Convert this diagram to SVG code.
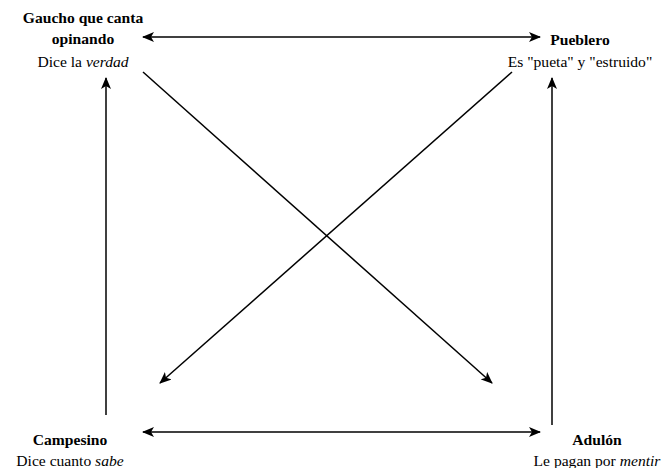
<svg xmlns="http://www.w3.org/2000/svg" width="667" height="468" viewBox="0 0 667 468">
<style>
text{font-family:'Liberation Serif','Times New Roman',serif;font-size:15.6px;fill:#000;text-anchor:middle}
.b{font-weight:bold}
.e{stroke:#000;stroke-width:1.5;fill:none}
</style>
<defs>
<marker id="ah" viewBox="0 0 12 10" refX="11" refY="5" markerWidth="12" markerHeight="10" markerUnits="userSpaceOnUse" orient="auto-start-reverse">
<path d="M0,0 L12,5 L0,10 L3,5 Z" fill="#000"/>
</marker>
</defs>
<rect width="667" height="468" fill="#fff"/>
<g id="gaucho">
<text x="83" y="23" class="b">Gaucho que canta</text>
<text x="83" y="44" class="b">opinando</text>
<text x="83" y="67">Dice la <tspan font-style="italic">verdad</tspan></text>
</g>
<g id="pueblero">
<text x="580" y="45" class="b">Pueblero</text>
<text x="580" y="67">Es "pueta" y "estruido"</text>
</g>
<g id="campesino">
<text x="70" y="445" class="b">Campesino</text>
<text x="70" y="466">Dice cuanto <tspan font-style="italic">sabe</tspan></text>
</g>
<g id="adulon">
<text x="597" y="445" class="b">Adulón</text>
<text x="597" y="466">Le pagan por <tspan font-style="italic">mentir</tspan></text>
</g>
<g id="connectors">
<line class="e" x1="143" y1="37" x2="540" y2="37" marker-start="url(#ah)" marker-end="url(#ah)"/>
<line class="e" x1="143" y1="432" x2="540" y2="432" marker-start="url(#ah)" marker-end="url(#ah)"/>
<line class="e" x1="106" y1="415" x2="106" y2="78" marker-end="url(#ah)"/>
<line class="e" x1="552" y1="425" x2="552" y2="78" marker-end="url(#ah)"/>
<line class="e" x1="143" y1="72" x2="492" y2="383" marker-end="url(#ah)"/>
<line class="e" x1="512" y1="72" x2="160" y2="383" marker-end="url(#ah)"/>
</g>
</svg>
